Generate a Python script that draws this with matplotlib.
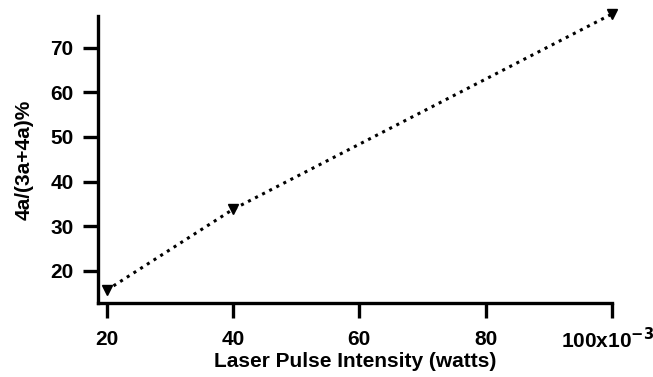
import matplotlib
matplotlib.use("Agg")
import matplotlib.pyplot as plt
import matplotlib.transforms as mtransforms

# Data
intensity = [20, 40, 100]          # x 10^-3 watts
ratio_pct = [15.7, 33.8, 77.5]     # 4a/(3a+4a) %

x_ticks = [20, 40, 60, 80, 100]
x_tick_labels = ["20", "40", "60", "80", r"100x10$^{\mathbf{-3}}$"]
y_ticks = [20, 30, 40, 50, 60, 70]

plt.rcParams["font.family"] = ["Liberation Sans", "DejaVu Sans"]
plt.rcParams["font.weight"] = "bold"
plt.rcParams["mathtext.default"] = "bf"

fig = plt.figure(figsize=(6.53, 3.77), dpi=100)
ax = fig.add_axes([0.150, 0.196, 0.787, 0.762])

ax.plot(intensity, ratio_pct, linestyle=(0, (1, 1.6)), color="black", linewidth=2.2,
        marker="v", markersize=6.5, markerfacecolor="black", markeredgecolor="black",
        clip_on=False, zorder=3)

ax.set_xlim(18.6, 100)
ax.set_ylim(12.8, 77.1)
ax.set_xticks(x_ticks)
ax.set_xticklabels(x_tick_labels)
ax.set_yticks(y_ticks)

for side in ["top", "right"]:
    ax.spines[side].set_visible(False)
for side in ["left", "bottom"]:
    ax.spines[side].set_linewidth(2.4)

ax.tick_params(axis="both", which="major", length=10.5, width=2.4, labelsize=15, color="black")
ax.tick_params(axis="x", pad=9)
ax.tick_params(axis="y", pad=7)
for lbl in ax.get_xticklabels() + ax.get_yticklabels():
    lbl.set_fontweight("bold")

# nudge the last label so the exponent stays inside the figure
last = ax.get_xticklabels()[-1]
last.set_transform(last.get_transform() + mtransforms.ScaledTranslation(-4 / 100, 3 / 100, fig.dpi_scale_trans))

ax.set_xlabel("Laser Pulse Intensity (watts)", fontsize=15, fontweight="bold", labelpad=0)
ax.set_ylabel("4a/(3a+4a)%", fontsize=15, fontweight="bold", labelpad=12)

fig.savefig("out.png", dpi=100)
